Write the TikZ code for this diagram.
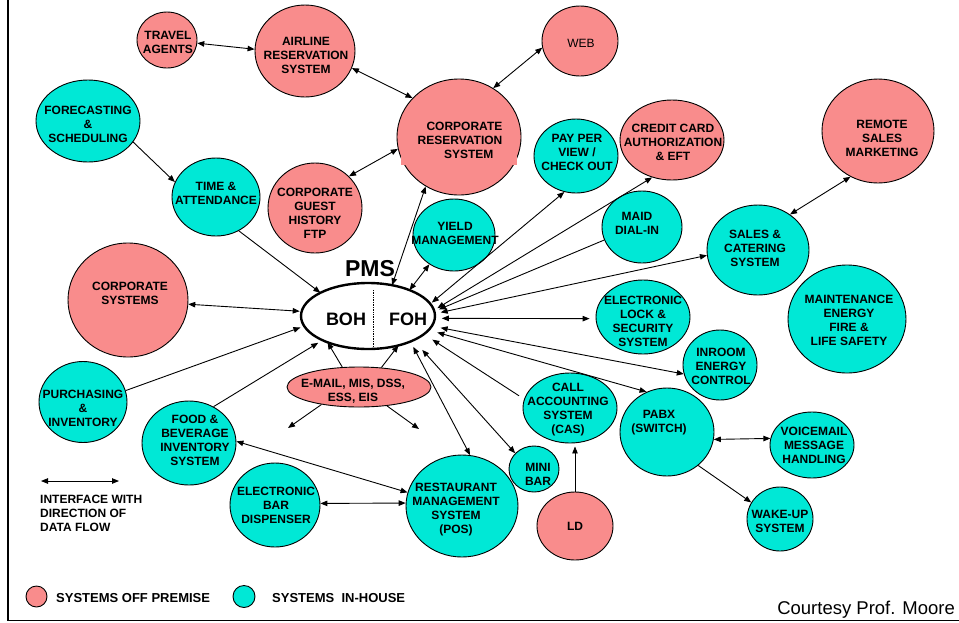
\documentclass[tikz,border=0pt]{standalone}
\usepackage{fontspec}
\setmainfont{Liberation Sans}
\usetikzlibrary{shapes.geometric, arrows.meta}
\definecolor{offpink}{RGB}{249,140,140}
\definecolor{inhcyan}{RGB}{0,232,214}
\begin{document}
\begin{tikzpicture}[x=1pt, y=-1pt,
  >={Triangle[length=7pt,width=5.5pt]},
  sys/.style={ellipse, draw=black, line width=0.9pt, inner sep=0pt},
  off/.style={sys, fill=offpink},
  inh/.style={sys, fill=inhcyan},
  ell/.style 2 args={minimum width=#1, minimum height=#2},
  lbl/.style={align=center, inner sep=0pt, font=\fontsize{12}{14}\selectfont\bfseries},
  keytext/.style={inner sep=0pt, font=\fontsize{13}{15}\selectfont\bfseries},
  flow/.style={line width=0.9pt, ->},
  both/.style={line width=0.9pt, <->},
]
\useasboundingbox (0,0) rectangle (959,622);

% frame
\coordinate (frTop) at (8,0);
\coordinate (frCorner) at (8,620.5);
\coordinate (frEnd) at (959,620.5);
\draw[line width=1.6pt] (frTop) -- (frCorner) -- (frEnd);

% systems off premise
\node[off, ell={60pt}{56pt}]   (tra) at (167,40) {};
\node[off, ell={100pt}{92pt}]  (air) at (305,51) {};
\node[off, ell={76pt}{70pt}]   (web) at (580,41) {};
\node[off, ell={124pt}{116pt}] (crs) at (459,137) {};
\fill[offpink] (401,130) rectangle (517,165);
\node[off, ell={94pt}{90pt}]   (cgh) at (315,208) {};
\node[off, ell={104pt}{80pt}]  (ccd) at (672,140) {};
\node[off, ell={112pt}{104pt}] (rsm) at (878,131) {};
\node[off, ell={120pt}{114pt}] (csy) at (128,300) {};
\node[off, ell={144pt}{40pt}]  (eml) at (359,387) {};
\node[off, ell={76pt}{68pt}]   (ld)  at (575,526) {};

% systems in-house
\node[inh, ell={84pt}{74pt}]   (ppv)  at (576,156) {};
\node[inh, ell={104pt}{82pt}]  (fcs)  at (88,121) {};
\node[inh, ell={88pt}{78pt}]   (tna)  at (216,197) {};
\node[inh, ell={82pt}{72pt}]   (yld)  at (454,235) {};
\node[inh, ell={80pt}{72pt}]   (maid) at (642,227) {};
\node[inh, ell={102pt}{90pt}]  (sac)  at (758,250) {};
\node[inh, ell={94pt}{74pt}]   (elk)  at (643,317) {};
\node[inh, ell={118pt}{108pt}] (mnt)  at (847,319) {};
\node[inh, ell={74pt}{70pt}]   (inr)  at (720,365) {};
\node[inh, ell={88pt}{81pt}]   (pur)  at (83,402) {};
\node[inh, ell={94pt}{84pt}]   (fbi)  at (189,443) {};
\node[inh, ell={94pt}{70pt}]   (cas)  at (570,408) {};
\node[inh, ell={94pt}{88pt}]   (pbx)  at (667,432) {};
\node[inh, ell={50pt}{46pt}]   (mbr)  at (534,469) {};
\node[inh, ell={84pt}{66pt}]   (vmh)  at (812,445) {};
\node[inh, ell={90pt}{84pt}]   (ebd)  at (275,505) {};
\node[inh, ell={112pt}{102pt}] (rms)  at (462,506) {};
\node[inh, ell={66pt}{64pt}]   (wak)  at (780,519) {};

% the property management system
\node[ellipse, draw=black, fill=white, line width=2.4pt, outer sep=0pt,
      minimum width=134pt, minimum height=66pt] (pms) at (368,316) {};
\coordinate (pmsDivTop) at (373,290);
\coordinate (pmsDivBot) at (373,348);
\draw[densely dotted, line width=0.7pt] (pmsDivTop) -- (pmsDivBot);
\node[inner sep=0pt, font=\fontsize{23}{27}\selectfont\bfseries] (pmsname) at (370,269) {PMS};
\node[inner sep=0pt, font=\fontsize{18}{21}\selectfont\bfseries] (boh) at (346,319.5) {BOH};
\node[inner sep=0pt, font=\fontsize{18}{21}\selectfont\bfseries] (foh) at (408,319.5) {FOH};

% labels
\node[lbl] (tra-t) at (168,42) {TRAVEL\\AGENTS};
\node[lbl] (air-t) at (306,55) {AIRLINE\\RESERVATION\\SYSTEM};
\node[inner sep=0pt, font=\fontsize{12}{14}\selectfont] (web-t) at (581,43) {WEB};
\node[lbl, align=right] (crs-t) at (460,140.5) {CORPORATE\\RESERVATION\\SYSTEM\kern9pt};
\node[lbl] (cgh-t) at (315,213) {CORPORATE\\GUEST\\HISTORY\\FTP};
\node[lbl] (ppv-t) at (577,152) {PAY PER\\VIEW /\\CHECK OUT};
\node[lbl] (ccd-t) at (673,142) {CREDIT CARD\\AUTHORIZATION\\\& EFT};
\node[lbl] (rsm-t) at (882,138) {REMOTE\\SALES\\MARKETING};
\node[lbl] (fcs-t) at (88,124) {FORECASTING\\\&\\SCHEDULING};
\node[lbl] (tna-t) at (216,193) {TIME \&\\ATTENDANCE};
\node[lbl] (yld-t) at (455,233) {YIELD\\MANAGEMENT};
\node[lbl] (maid-t) at (637,223) {MAID\\DIAL-IN};
\node[lbl] (sac-t) at (755,248) {SALES \&\\CATERING\\SYSTEM};
\node[lbl] (csy-t) at (130,293) {CORPORATE\\SYSTEMS};
\node[lbl] (elk-t) at (643,321) {ELECTRONIC\\LOCK \&\\SECURITY\\SYSTEM};
\node[lbl] (mnt-t) at (849,320) {MAINTENANCE\\ENERGY\\FIRE \&\\LIFE SAFETY};
\node[lbl] (inr-t) at (721,366) {INROOM\\ENERGY\\CONTROL};
\node[lbl] (eml-t) at (353,391) {E-MAIL, MIS, DSS,\\ESS, EIS};
\node[lbl] (pur-t) at (83,408) {PURCHASING\\\&\\INVENTORY};
\node[lbl] (fbi-t) at (195,440) {FOOD \&\\BEVERAGE\\INVENTORY\\SYSTEM};
\node[lbl] (cas-t) at (568,410) {CALL\\ACCOUNTING\\SYSTEM\\(CAS)};
\node[lbl] (pbx-t) at (659,423) {PABX\\(SWITCH)};
\node[lbl] (mbr-t) at (538,474) {MINI\\BAR};
\node[lbl] (vmh-t) at (814,445) {VOICEMAIL\\MESSAGE\\HANDLING};
\node[lbl] (ebd-t) at (276,505) {ELECTRONIC\\BAR\\DISPENSER};
\node[lbl] (rms-t) at (456,510) {RESTAURANT\\MANAGEMENT\\SYSTEM\\(POS)};
\node[lbl] (ld-t) at (575,526) {LD};
\node[lbl] (wak-t) at (780,521) {WAKE-UP\\SYSTEM};

% interfaces between systems
\draw[both] (tra.-6) -- (air.178);
\draw[both] (air.-20) -- (crs.140);
\draw[both] (web.190) -- (crs.55);
\draw[both] (cgh.43) -- (crs.191);
\draw[flow] (fcs.-25) -- (tna.160);
\draw[flow] (tna.-56) -- (pms.154);
\draw[both, shorten >=2pt] (csy.-4) -- (pms.176);
\draw[flow, shorten >=4pt] (pur.15) -- (pms.189);
\draw[flow, shorten >=5pt] (fbi.56) -- (pms.208);
\draw[flow] (eml.130) -- (pms.213);
\draw[flow] (eml.41) -- (pms.-44);
\coordinate (emlSW) at (288,428);
\coordinate (emlSE) at (419,429);
\draw[flow] (eml.205) -- (emlSW);
\draw[flow] (eml.-34) -- (emlSE);
\draw[both] (pms.52) -- (crs.236);
\draw[both] (pms.32) -- (yld.230);
\draw[both, shorten <=2pt] (pms.11.5) -- (ppv.252);
\draw[both, shorten <=4pt] (pms.5.7) -- (ccd.242);
\draw[flow, shorten >=5pt] (maid.199) -- (pms.4);
\draw[both, shorten <=6pt] (pms.2.4) -- (sac.186);
\draw[both] (sac.48) -- (rsm.239);
\draw[both, shorten <=7pt, shorten >=6pt] (pms.-2.3) -- (elk.182);
\draw[both, shorten <=9pt] (pms.-9.3) -- (inr.194);
\draw[both, shorten <=9pt] (pms.-13.8) -- (pbx.117);
\draw[flow, shorten <=6pt, shorten >=10pt] (cas.169) -- (pms.-18.7);
\draw[both, shorten <=13pt] (pms.-28.5) -- (mbr.140);
\draw[both, shorten <=6pt] (pms.-31.7) -- (rms.81);
\draw[flow, shorten >=3pt] (ld.north) -- (ld.north |- cas.south);
\draw[both] (pbx.-9) -- (vmh.171);
\draw[flow] (pbx.-47) -- (wak.150);
\draw[both] (fbi.2) -- (rms.166);
\draw[both] (ebd.2) -- (rms.177);

% key
\coordinate (keyA) at (41,481);
\coordinate (keyB) at (119,481);
\draw[both] (keyA) -- (keyB);
\node[lbl, align=left, anchor=west] (key-t) at (40,513.7) {INTERFACE WITH\\DIRECTION OF\\DATA FLOW};
\node[circle, draw=black, line width=0.9pt, fill=offpink, minimum size=21pt, inner sep=0pt] (keyoff) at (36.5,596.5) {};
\node[keytext, anchor=base west] (keyoff-t) at (56,602) {SYSTEMS OFF PREMISE};
\node[circle, draw=black, line width=0.9pt, fill=inhcyan, minimum size=22pt, inner sep=0pt] (keyin) at (244,596.5) {};
\node[keytext, anchor=base west] (keyin-t) at (272,602) {SYSTEMS\ \ IN-HOUSE};

\node[anchor=base east, inner sep=0pt, font=\fontsize{18.5}{22}\selectfont] (credit) at (955,614) {Courtesy Prof. Moore};
\end{tikzpicture}
\end{document}
